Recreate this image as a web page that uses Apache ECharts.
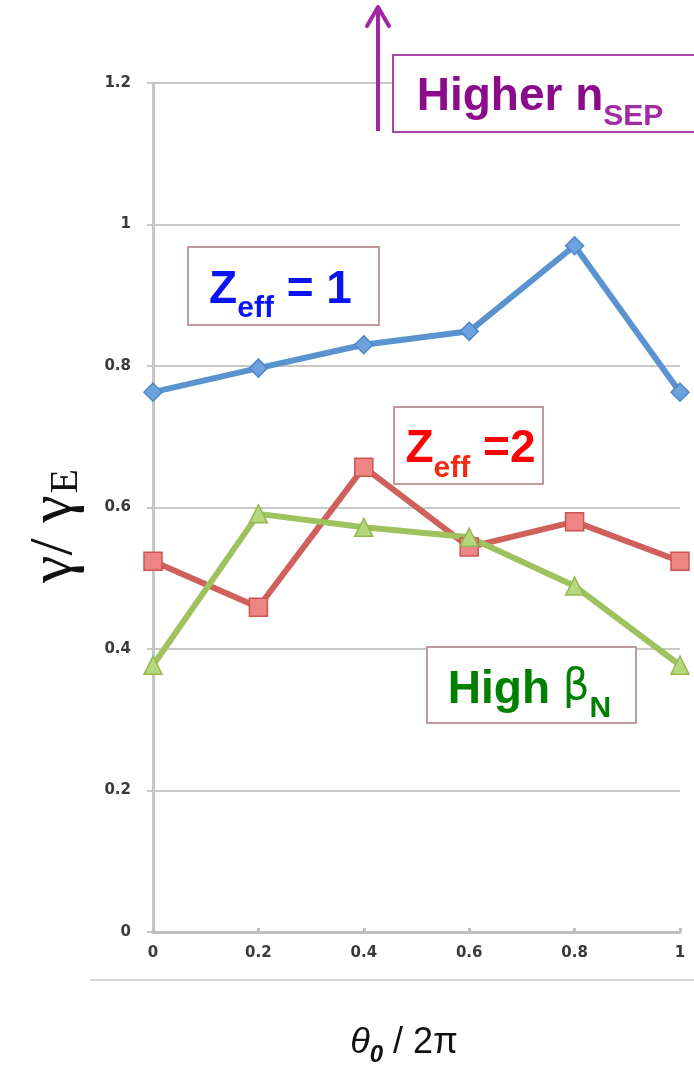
<!DOCTYPE html>
<html>
<head>
<meta charset="utf-8">
<script src="https://cdn.jsdelivr.net/npm/echarts@6/dist/echarts.min.js"></script>
<style>
  html, body { margin: 0; padding: 0; background: #ffffff; }
  #chart { width: 694px; height: 1067px; }
</style>
</head>
<body>
<div id="chart"></div>
<script>
// Normalised separatrix position theta0 / 2pi
const theta = [0, 0.2, 0.4, 0.6, 0.8, 1];
// Growth rate ratio gamma / gamma_E for each case
const zeff1 = [0.763, 0.797, 0.830, 0.849, 0.970, 0.763];
const zeff2 = [0.524, 0.459, 0.657, 0.544, 0.580, 0.524];
const highBetaN = [0.377, 0.591, 0.572, 0.558, 0.489, 0.377];
// Axis tick values
const xTicks = [0, 0.2, 0.4, 0.6, 0.8, 1];
const yTicks = [0, 0.2, 0.4, 0.6, 0.8, 1, 1.2];

const pairs = ys => theta.map((x, i) => [x, ys[i]]);
const fmt = v => String(+v.toFixed(1));

const chart = echarts.init(document.getElementById('chart'), null, { renderer: 'canvas' });

const tickFont = { fontFamily: 'DejaVu Sans', fontSize: 15, fontWeight: 'bold', color: '#3a3a3a' };

const lineSeries = (name, data, color, symbol, size, fill, border) => ({
  name, type: 'line', data: pairs(data),
  symbol, symbolSize: size, showSymbol: true,
  lineStyle: { color, width: 6 },
  itemStyle: { color: fill, borderColor: border, borderWidth: 1.5 },
  z: 3
});

// framed annotation: rectangle plus centred rich text (textDx/textDy nudge the text)
const boxText = (left, top, w, h, borderColor, rich, text, textDx, textDy) => ({
  type: 'group', x: left, y: top,
  children: [
    { type: 'rect', z: 30, shape: { x: 0, y: 0, width: w, height: h },
      style: { fill: '#ffffff', stroke: borderColor, lineWidth: 2 } },
    { type: 'text', z: 31, x: w / 2 + (textDx || 0), y: h / 2 + (textDy || 0),
      style: { text, rich, align: 'center', verticalAlign: 'middle' } }
  ]
});

const labelRich = (color, subColor) => ({
  a: { fontFamily: 'Liberation Sans', fontWeight: 'bold', fontSize: 46, fill: color, lineHeight: 46, verticalAlign: 'top' },
  b: { fontFamily: 'Liberation Sans', fontWeight: 'bold', fontSize: 30, fill: subColor || color, lineHeight: 30, padding: [27, 0, 0, 0], verticalAlign: 'top' },
  g: { fontFamily: 'DejaVu Sans', fontWeight: 'normal', fontSize: 42, fill: color, lineHeight: 46, verticalAlign: 'top' }
});

chart.setOption({
  backgroundColor: '#ffffff',
  animation: false,
  grid: { left: 153, right: 14, top: 83, bottom: 135, containLabel: false },
  xAxis: {
    type: 'value', min: 0, max: 1, interval: 0.2,
    axisLine: { show: true, onZero: false, lineStyle: { color: '#bfbfbf', width: 3 } },
    axisTick: { show: true, inside: true, length: 4, lineStyle: { color: '#bfbfbf', width: 3 } },
    splitLine: { show: false },
    axisLabel: Object.assign({ margin: 14, formatter: fmt, customValues: xTicks }, tickFont)
  },
  yAxis: {
    type: 'value', min: 0, max: 1.2, interval: 0.2,
    axisLine: { show: true, lineStyle: { color: '#c6c6c6', width: 3 } },
    axisTick: { show: true, inside: false, length: 6, lineStyle: { color: '#c6c6c6', width: 2 } },
    splitLine: { show: true, lineStyle: { color: '#c8c8c8', width: 2 } },
    axisLabel: Object.assign({ margin: 22, formatter: fmt, customValues: yTicks }, tickFont)
  },
  series: [
    lineSeries('Zeff = 1', zeff1, '#5b93cf', 'diamond', 18, '#6ea2df', '#4f86c6'),
    lineSeries('Zeff = 2', zeff2, '#d0605b', 'rect', 18, '#ec8583', '#cc5551'),
    lineSeries('High betaN', highBetaN, '#9dc25e', 'triangle', 18, '#b6d77c', '#92b850')
  ],
  graphic: [
    // slide baseline below the chart
    { type: 'line', z: 1, shape: { x1: 90, y1: 980, x2: 694, y2: 980 },
      style: { stroke: '#d9d9d9', lineWidth: 2 } },
    // y-axis title
    { type: 'text', x: 55, y: 526, rotation: Math.PI / 2, z: 20,
      style: {
        text: '{g|γ/ γ}{e|E}', align: 'center', verticalAlign: 'middle',
        rich: {
          g: { fontFamily: 'Liberation Serif', fontSize: 62, fill: '#111111', lineHeight: 62, verticalAlign: 'top' },
          e: { fontFamily: 'Liberation Serif', fontSize: 40, fill: '#111111', lineHeight: 40, padding: [22, 0, 0, 2], verticalAlign: 'top' }
        }
      } },
    // x-axis title
    { type: 'text', x: 404, y: 1043, z: 20,
      style: {
        text: '{t|θ}{s|0}{r| / 2π}', align: 'center', verticalAlign: 'middle',
        rich: {
          t: { fontFamily: 'Liberation Sans', fontStyle: 'italic', fontSize: 36, fill: '#111111', lineHeight: 36, verticalAlign: 'top' },
          s: { fontFamily: 'Liberation Sans', fontStyle: 'italic', fontWeight: 'bold', fontSize: 24, fill: '#111111', lineHeight: 24, padding: [18, 0, 0, 0], verticalAlign: 'top' },
          r: { fontFamily: 'Liberation Sans', fontSize: 36, fill: '#111111', lineHeight: 36, verticalAlign: 'top' }
        }
      } },
    // arrow towards higher separatrix density
    { type: 'line', z: 32, shape: { x1: 378, y1: 131, x2: 378, y2: 8 },
      style: { stroke: '#a126a1', lineWidth: 4 } },
    { type: 'polyline', z: 32, shape: { points: [[367, 26], [378, 7], [389, 26]] },
      style: { stroke: '#a126a1', lineWidth: 4, fill: null, lineCap: 'round', lineJoin: 'round' } },
    boxText(393, 55, 310, 77, '#a845a8', labelRich('#8c0a8c', '#a22aa2'), '{a|Higher n}{b|SEP}', -8, 4),
    boxText(188, 247, 191, 78, '#c09a9c', labelRich('#0a14f0'), '{a|Z}{b|eff}{a| = 1}', -3, 4),
    boxText(394, 407, 149, 77, '#c09a9c', labelRich('#ff0000', '#f22a12'), '{a|Z}{b|eff}{a| =2}', 2, 4),
    boxText(427, 647, 209, 76, '#c09a9c', labelRich('#008000'), '{a|High }{g|β}{b|N}', -2, 5)
  ]
});
</script>
</body>
</html>
